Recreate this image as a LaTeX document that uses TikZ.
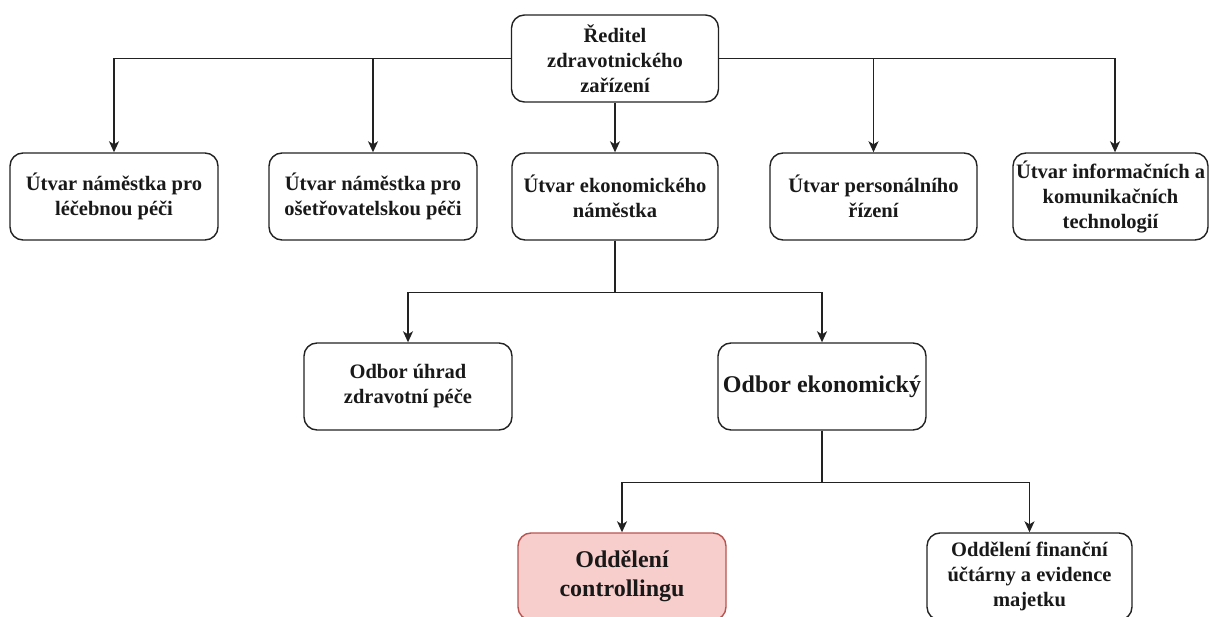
\documentclass[tikz,border=0pt]{standalone}
\usepackage{fontspec}
\setmainfont{Liberation Serif}
\usetikzlibrary{arrows.meta}
\definecolor{boxline}{HTML}{222222}
\definecolor{pinkfill}{HTML}{F8CECC}
\definecolor{pinkline}{HTML}{B85450}
\tikzset{
  unit/.style={draw=boxline, line width=1.4pt, rounded corners=13pt, fill=white,
    align=center, text=black!90, inner sep=0pt, minimum height=87pt,
    font=\rmfamily\bfseries\fontsize{20.5}{25}\selectfont},
  bigtext/.style={font=\rmfamily\bfseries\fontsize{24}{29}\selectfont},
  highlight/.style={fill=pinkfill, draw=pinkline},
  link/.style={draw=boxline, line width=1.4pt,
    -{Stealth[length=11pt,width=10pt,inset=3pt]}},
}
\begin{document}
\begin{tikzpicture}[x=1pt,y=-1pt]
\useasboundingbox (0,0) rectangle (1210,617);
\clip (0,0) rectangle (1210,617);

% head of the organisation
\node[unit, minimum width=207pt] (top) at (615,58.5)
  {Ředitel\\zdravotnického\\zařízení};

% first level units
\node[unit, minimum width=208pt] (b1) at (114,196.5)
  {Útvar náměstka pro\\léčebnou péči};
\node[unit, minimum width=208pt] (b2) at (373,196.5)
  {Útvar náměstka pro\\ošetřovatelskou péči};
\node[unit, minimum width=206pt] (b3) at (615,196.5)
  {Útvar ekonomického\\náměstka};
\node[unit, minimum width=207pt] (b4) at (873.5,196.5)
  {Útvar personálního\\řízení};
\node[unit, minimum width=195pt] (b5) at (1110.5,196.5)
  {Útvar informačních a\\komunikačních\\technologií};

% departments under the economic unit
\node[unit, minimum width=208pt] (b6) at (408,386.5)
  {Odbor úhrad\\zdravotní péče};
\node[unit, bigtext, minimum width=208pt] (b7) at (822,386.5)
  {Odbor ekonomický};

% sections of the economic department
\node[unit, bigtext, highlight, minimum width=208pt] (b8) at (622,576.5)
  {Oddělení\\controllingu};
\node[unit, minimum width=205pt] (b9) at (1029.5,576.5)
  {Oddělení finanční\\účtárny a evidence\\majetku};

% connectors
\draw[link] (top.west) -| (b1.north);
\draw[link] (top.west) -| (b2.north);
\draw[link] (top.south) -- (b3.north);
\draw[link] (top.east) -| (b4.north);
\draw[link] (top.east) -| ([xshift=4.5pt]b5.north);

\draw[link] (b3.south) -- ++(0,52) -| (b6.north);
\draw[link] (b3.south) -- ++(0,52) -| (b7.north);

\draw[link] (b7.south) -- ++(0,52) -| (b8.north);
\draw[link] (b7.south) -- ++(0,52) -| (b9.north);
\end{tikzpicture}
\end{document}
